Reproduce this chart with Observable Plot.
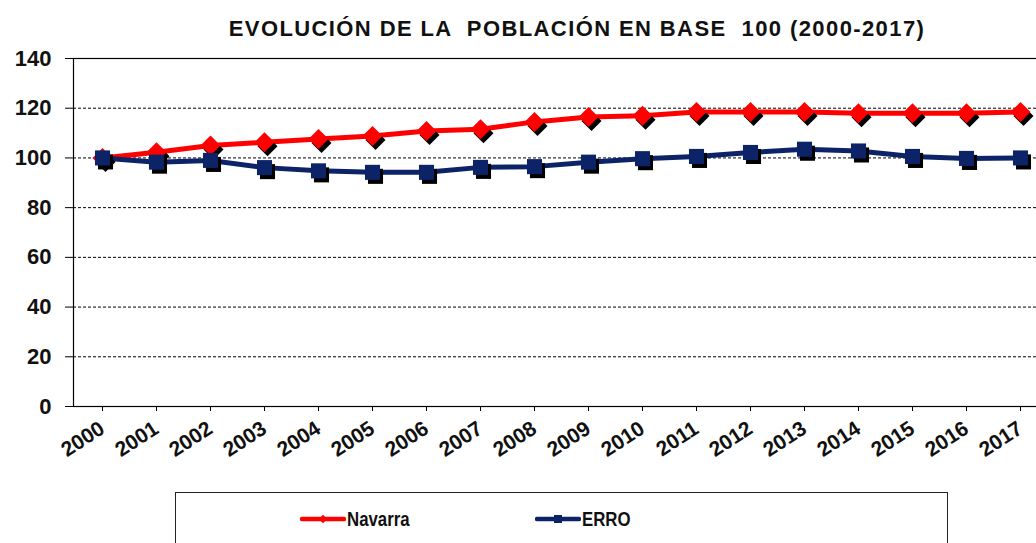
<!DOCTYPE html>
<html>
<head>
<meta charset="utf-8">
<script src="https://cdn.jsdelivr.net/npm/d3@7"></script>
<script src="https://cdn.jsdelivr.net/npm/@observablehq/plot@0.6"></script>
<style>
  html, body { margin: 0; padding: 0; background: #fff; overflow: hidden; width: 1036px; height: 543px; }
  body { font-family: "Liberation Sans", Arial, sans-serif; position: relative; }
  #title { position: relative; height: 45px; }
  #title span { position: absolute; left: 577px; top: 16px; transform: translateX(-50%); white-space: pre;
    font-weight: bold; font-size: 22px; letter-spacing: 1.4px; color: #111; }
  #chart { width: 1060px; }
  #chart svg { display: block; overflow: visible; max-width: none !important; }
  #legend { position: absolute; left: 175px; top: 492px; width: 773px; height: 70px; border: 1.5px solid #222; box-sizing: border-box; }
  .item { position: absolute; top: 14px; display: flex; align-items: center; font-weight: bold; font-size: 21px; color: #111; }
  .item svg { display: block; }
  .item span { display: inline-block; transform: scaleX(0.8); transform-origin: left center; }
</style>
</head>
<body>
<div id="title"><span>EVOLUCIÓN DE LA  POBLACIÓN EN BASE  100 (2000-2017)</span></div>
<div id="chart"></div>
<div id="legend"></div>
<script>
const years = ["2000","2001","2002","2003","2004","2005","2006","2007","2008","2009","2010","2011","2012","2013","2014","2015","2016","2017"];
const navarra = [100, 102.3, 105, 106.3, 107.6, 108.8, 110.8, 111.5, 114.5, 116.5, 117, 118.5, 118.5, 118.5, 118, 118, 118, 118.5];
const erro = [100, 98.3, 99, 96.1, 94.8, 94.2, 94.2, 96.2, 96.5, 98.3, 99.7, 100.6, 102.2, 103.5, 102.8, 100.6, 99.8, 100];
const yTicks = [0, 20, 40, 60, 80, 100, 120, 140];
const gridValues = [20, 40, 60, 80, 100, 120];
const seriesNames = ["Navarra", "ERRO"];
const colors = {Navarra: "#ff0000", ERRO: "#0c2368"};

const rows = [];
years.forEach((y, i) => {
  rows.push({year: y, value: navarra[i], series: "Navarra"});
  rows.push({year: y, value: erro[i], series: "ERRO"});
});
const nav = rows.filter(d => d.series === "Navarra");
const err = rows.filter(d => d.series === "ERRO");

const chart = Plot.plot({
  width: 1060,
  height: 436,
  marginLeft: 73,
  marginRight: 11,
  marginTop: 13,
  marginBottom: 75,
  style: {fontFamily: "Liberation Sans, Arial, sans-serif", background: "transparent", maxWidth: "none"},
  x: {type: "point", domain: years, padding: 0.5},
  y: {domain: [0, 140]},
  marks: [
    Plot.ruleY(gridValues, {stroke: "#000", strokeWidth: 1, strokeDasharray: "3,2"}),
    Plot.frame({stroke: "#000", strokeWidth: 1.2}),
    Plot.axisY({ticks: yTicks, tickSize: 8, tickPadding: 14, label: null, fontSize: 22, fontWeight: "bold", fill: "#111", stroke: "#000"}),
    Plot.axisX({tickSize: 5, tickPadding: 15, tickRotate: -33, label: null, fontSize: 21, fontWeight: "bold", fill: "#111"}),
    Plot.line(nav, {x: "year", y: "value", stroke: colors.Navarra, strokeWidth: 5}),
    Plot.line(err, {x: "year", y: "value", stroke: colors.ERRO, strokeWidth: 5}),
    Plot.dot(nav, {x: "year", y: "value", symbol: "diamond2", r: 9, fill: "#000", dx: 3, dy: 4}),
    Plot.dot(nav, {x: "year", y: "value", symbol: "diamond2", r: 9, fill: colors.Navarra}),
    Plot.dot(err, {x: "year", y: "value", symbol: "square", r: 8.5, fill: "#000", dx: 3, dy: 4}),
    Plot.dot(err, {x: "year", y: "value", symbol: "square", r: 8.5, fill: colors.ERRO})
  ]
});
document.getElementById("chart").appendChild(chart);

// legend
const legend = document.getElementById("legend");
const positions = {Navarra: 124, ERRO: 359};
seriesNames.forEach(name => {
  const item = document.createElement("div");
  item.className = "item";
  item.style.left = positions[name] + "px";
  const sw = d3.create("svg").attr("width", 46).attr("height", 18);
  sw.append("line").attr("x1", 2).attr("x2", 44).attr("y1", 9).attr("y2", 9)
    .attr("stroke", colors[name]).attr("stroke-width", 4.5).attr("stroke-linecap", "round");
  sw.append("path").attr("transform", "translate(23,9)")
    .attr("d", d3.symbol(name === "Navarra" ? d3.symbolDiamond2 : d3.symbolSquare, name === "Navarra" ? 45 : 64)())
    .attr("fill", colors[name]);
  item.appendChild(sw.node());
  const t = document.createElement("span");
  t.textContent = name;
  t.style.marginLeft = "1px";
  item.appendChild(t);
  legend.appendChild(item);
});
</script>
</body>
</html>
